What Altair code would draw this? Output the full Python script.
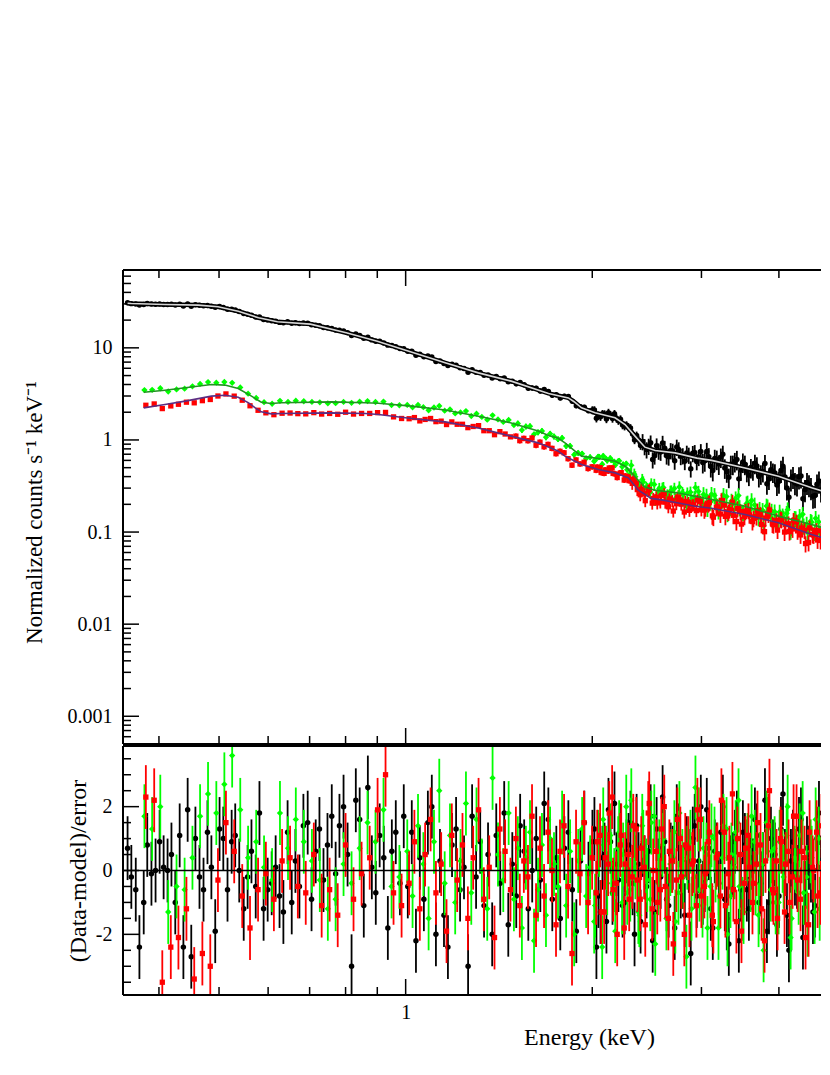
import altair as alt
import pandas as pd

# ---------------- data ----------------
# energies of the spectral bins (eV)
BK_E_EV = [356, 361, 367, 372, 378, 383, 389, 395, 401, 407, 413, 419, 425, 432, 438, 445, 451, 458, 465, 472,
           479, 486, 493, 501, 508, 516, 524, 531, 539, 548, 556, 564, 573, 581, 590, 599, 608, 617, 626, 635,
           645, 655, 664, 674, 684, 695, 705, 716, 726, 737, 748, 760, 771, 782, 794, 806, 818, 831, 843, 856,
           869, 882, 895, 908, 922, 936, 950, 964, 979, 993,
           1008, 1023, 1039, 1054, 1070, 1086, 1102, 1119, 1136, 1153, 1170, 1188, 1206, 1224, 1242, 1261, 1280, 1299, 1319, 1338,
           1358, 1379, 1400, 1421, 1442, 1464, 1486, 1508, 1530, 1553, 1577, 1600, 1624, 1649, 1673, 1699, 1724, 1750, 1776, 1803,
           1830, 1857, 1885, 1914, 1942, 1972, 2001, 2031, 2062, 2093, 2124, 2156, 2188, 2221, 2255, 2288, 2323, 2358, 2393, 2429,
           2466, 2503, 2540, 2578, 2617, 2656, 2696, 2737, 2778, 2820, 2862, 2905, 2948, 2993, 3037, 3083, 3129, 3176, 3224, 3272,
           3321, 3371, 3422, 3473, 3525, 3578, 3632, 3686, 3741, 3798, 3855, 3912, 3971, 4031, 4091, 4152, 4215, 4278, 4342, 4407,
           4473, 4540, 4608, 4677, 4747, 4818, 4891]
BK_FLUX = [30.8, 30.2, 30.0, 29.2, 29.6, 30.3, 29.9, 29.8, 30.0, 29.6,
           29.6, 29.7, 29.1, 29.8, 28.5, 30.0, 28.3, 29.4, 29.0, 28.6,
           28.9, 28.3, 27.5, 28.1, 27.4, 26.3, 26.2, 25.7, 24.8, 23.6,
           23.1, 22.6, 21.6, 21.6, 20.3, 20.1, 19.7, 19.4, 18.9, 18.7,
           19.2, 18.5, 18.7, 18.4, 18.6, 18.5, 17.8, 17.6, 17.4, 16.6,
           16.5, 16.2, 15.6, 15.5, 15.2, 14.6, 13.6, 14.1, 13.6, 12.7,
           13.0, 12.2, 11.8, 11.8, 11.3, 10.7, 10.6, 10.3, 9.82, 9.78,
           9.19, 9.21, 8.31, 8.50, 8.01, 8.14, 7.96, 7.11, 7.21, 6.75,
           6.42, 6.63, 6.49, 6.07, 5.97, 5.43, 5.80, 5.42, 5.39, 5.05,
           5.08, 4.70, 4.89, 4.62, 4.70, 4.28, 4.33, 4.07, 4.21, 3.98,
           3.64, 3.66, 3.65, 3.39, 3.53, 3.36, 3.05, 3.10, 2.86, 2.99,
           2.96, 2.63, 2.35, 2.30, 2.27, 2.08, 2.11, 1.72, 1.79, 1.91,
           1.98, 1.71, 1.72, 1.68, 1.41, 1.38, 1.16, 1.12, 0.868, 0.852,
           0.859, 0.612, 0.866, 0.741, 0.814, 0.657, 0.758, 0.839, 0.665, 0.587,
           0.687, 0.716, 0.585, 0.751, 0.594, 0.657, 0.467, 0.618, 0.651, 0.497,
           0.394, 0.545, 0.614, 0.472, 0.545, 0.415, 0.473, 0.523, 0.428, 0.555,
           0.377, 0.448, 0.325, 0.467, 0.397, 0.239, 0.401, 0.333, 0.406, 0.289,
           0.326, 0.245, 0.331, 0.286, 0.254, 0.332, 0.217]
BK_RES = [0.7, -0.2, -0.6, -2.4, -1.0, 0.8, -0.1, 0.0, 0.9, 0.1,
          0.0, 0.5, -1.0, 1.1, -2.4, 1.9, -2.7, 1.0, -0.2, -0.6,
          1.2, 0.1, -1.9, 1.3, 1.0, -0.6, 0.9, 1.1, 0.0, -1.2,
          -0.2, 0.6, -0.5, 1.8, -1.2, -0.6, -0.4, 0.1, -0.8, -1.3,
          1.2, -1.0, 0.3, -0.5, 1.4, 1.5, -0.9, 0.6, 1.3, -0.3,
          0.8, 1.7, -0.1, 1.4, 2.0, 0.5, -3.0, 2.2, 1.6, -1.1,
          2.6, 0.1, -0.7, 1.1, 0.4, -1.8, 0.6, 1.2, -0.4, 1.7,
          -0.5, 1.2, -2.2, 0.4, -0.9, 1.5, 2.0, -2.0, 0.3, -1.4,
          -2.4, 0.8, 1.3, -0.6, 0.1, -3.0, 1.7, -0.2, 0.9, -1.1,
          0.5, -2.0, 1.1, -0.4, 1.8, -1.7, 0.2, -0.8, 1.4, 0.6,
          -1.2, 0.0, 1.0, -0.3, 2.1, 1.6, -0.9, 0.4, -1.5, 0.7,
          1.2, -0.6, -1.9, 0.3, 1.5, -0.1, 0.9, -2.4, -1.3, 0.5,
          1.9, -0.7, 0.2, 1.1, -1.0, 0.8, -0.4, 1.4, -1.6, 0.1,
          0.6, -2.2, 1.3, -0.2, 0.9, -1.1, 0.4, 1.7, -0.5, -1.4,
          0.3, 1.0, -0.8, 2.0, -0.3, 0.7, -1.8, 0.5, 1.2, -0.9,
          -2.3, 0.2, 1.5, -0.6, 0.8, -1.2, 0.0, 1.1, -0.4, 2.2,
          -1.0, 0.6, -1.7, 1.3, 0.3, -2.5, 0.9, -0.2, 1.6, -0.7,
          0.4, -1.3, 1.0, 0.1, -0.5, 1.8, -1.1]
# finer bins of the same spectrum above 2 keV
BK_E_EV_X = [2016, 2046, 2077, 2108, 2140, 2172, 2204, 2238, 2271, 2305,
             2340, 2375, 2411, 2447, 2484, 2521, 2559, 2597, 2636, 2676,
             2716, 2757, 2799, 2841, 2883, 2926, 2970, 3015, 3060, 3106,
             3152, 3200, 3248, 3296, 3346, 3396, 3447, 3499, 3551, 3605,
             3659, 3713, 3769, 3826, 3883, 3941, 4001, 4061, 4121, 4183,
             4246, 4310, 4374, 4440, 4506, 4574, 4642, 4712, 4782, 4854]
BK_FLUX_X = [2.11, 1.85, 1.92, 1.69, 1.87, 1.92, 1.62, 1.45, 1.45, 1.35,
             1.00, 1.00, 0.964, 0.786, 0.932, 0.674, 0.761, 0.924, 0.675, 0.770,
             0.593, 0.786, 0.677, 0.722, 0.488, 0.733, 0.650, 0.569, 0.750, 0.514,
             0.631, 0.548, 0.698, 0.451, 0.544, 0.583, 0.378, 0.575, 0.456, 0.502,
             0.557, 0.401, 0.455, 0.334, 0.474, 0.438, 0.356, 0.518, 0.301, 0.377,
             0.344, 0.398, 0.230, 0.345, 0.304, 0.249, 0.358, 0.258, 0.299, 0.199]
BK_RES_X = [1.3, -0.8, 0.4, -1.6, 0.9, 2.1, -0.3, -1.1, 0.6, 1.5,
            -2.0, 0.2, 0.8, -0.5, 1.7, -1.3, 0.0, 2.3, -0.9, 0.5,
            -1.8, 1.1, -0.2, 0.7, -2.6, 1.4, 0.3, -0.7, 1.9, -1.2,
            0.6, -0.4, 2.0, -1.5, 0.1, 0.9, -2.2, 1.2, -0.6, 0.4,
            1.6, -1.0, 0.2, -1.9, 1.0, 0.5, -0.8, 2.4, -1.4, 0.3,
            -0.1, 1.3, -2.1, 0.7, 0.0, -1.1, 1.8, -0.5, 0.8, -1.7]

GR_E_EV = [379, 390, 402, 414, 427, 440, 453, 466, 480, 495, 510, 525, 541, 557, 574, 591, 609, 627, 646, 665,
           685, 706, 727, 749, 771, 794, 818, 843, 868, 894, 921, 949, 977,
           1006, 1026, 1047, 1068, 1089, 1111, 1133, 1156, 1179, 1202, 1226, 1251, 1276, 1301, 1327, 1354, 1381, 1409,
           1437, 1466, 1495,
           1517, 1540, 1563, 1587, 1611, 1635, 1659, 1684, 1710, 1735, 1761, 1788, 1815, 1842, 1870, 1898, 1926, 1955,
           1984, 2014, 2044, 2075, 2106, 2138, 2170, 2202, 2235, 2269, 2303, 2338, 2373, 2408, 2444, 2481, 2518, 2556,
           2595, 2634, 2673, 2713, 2754, 2795, 2837, 2880, 2923, 2967, 3012, 3057, 3103, 3149, 3196, 3244, 3293, 3342,
           3393, 3443, 3495, 3547, 3601, 3655, 3709, 3765, 3821, 3879, 3937, 3996, 4056, 4117, 4178, 4241, 4304, 4369,
           4434, 4501, 4568, 4637, 4706, 4777, 4848]
GR_FLUX = [3.48, 3.50, 3.64, 3.36, 3.54, 3.60, 3.82, 4.06, 4.25, 4.19, 4.26, 4.17, 3.72, 3.18, 2.86, 2.57, 2.47,
           2.66, 2.59, 2.67, 2.63, 2.59, 2.56, 2.50, 2.51, 2.59, 2.53, 2.60, 2.64, 2.58, 2.61, 2.39, 2.38,
           2.40, 2.26, 2.40, 2.27, 2.10, 2.25, 2.34, 2.08, 2.14, 1.94, 1.99, 2.06, 1.82, 1.93, 1.78, 1.66, 1.85,
           1.67, 1.57, 1.65, 1.45,
           1.51, 1.28, 1.40, 1.41, 1.15, 1.21, 1.25, 1.07, 1.17, 1.09,
           1.02, 1.05, 0.857, 0.861, 0.691, 0.722, 0.709, 0.630, 0.650, 0.587,
           0.657, 0.545, 0.622, 0.633, 0.580, 0.586, 0.511, 0.553, 0.430, 0.425,
           0.322, 0.372, 0.306, 0.271, 0.329, 0.272, 0.299, 0.238, 0.277, 0.298,
           0.249, 0.268, 0.194, 0.271, 0.242, 0.276, 0.205, 0.246, 0.213, 0.250,
           0.171, 0.224, 0.243, 0.185, 0.203, 0.249, 0.165, 0.203, 0.176, 0.197,
           0.144, 0.172, 0.192, 0.147, 0.166, 0.131, 0.150, 0.160, 0.103, 0.141,
           0.120, 0.156, 0.122, 0.131, 0.100, 0.129, 0.105, 0.111, 0.124]
GR_RES = [1.7, 1.3, 2.0, -1.3, -0.5, -0.6, 0.4, 1.7, 2.4, 1.8,
          2.7, 3.6, 1.9, 0.4, 0.9, 0.1, -0.3, 1.8, 0.7, 1.6,
          0.9, 0.3, -0.3, -1.2, -0.9, 0.2, -0.4, 0.7, 1.5, 0.9,
          1.9, -0.5, -0.2,
          0.6, -0.8, 1.4, 0.2, -1.5, 0.9, 2.5, -0.4, 1.1, -1.0,
          0.3, 2.1, -0.7, 1.6, 0.0, -1.2, 2.9, 0.5, -0.3, 1.8,
          -0.9, 0.7, -1.8, 0.4, 1.2, -2.2, -0.6, 0.8, -1.4, 1.0,
          0.2, -0.5, 1.5, -1.1, 0.6, -2.0, 0.3, 1.3, -0.8, 0.1,
          -1.6, 0.9, -2.4, 0.4, 1.1, -0.3, 0.7, -1.0, 2.0, -0.6,
          0.5, -1.3, 1.4, 0.0, -0.9, 1.7, -0.4, 0.8, -1.5, 0.2,
          1.2, -0.7, 0.3, -2.7, 0.9, -0.2, 1.6, -1.1, 0.5, -0.5,
          1.0, -1.8, 0.4, 1.3, -0.8, 0.1, 2.2, -1.2, 0.6, -0.3,
          0.9, -1.4, 0.2, 1.5, -0.6, 0.7, -1.0, 0.3, 1.1, -2.1,
          0.4, -0.7, 1.8, -0.2, 0.6, -1.3, 1.0, -0.5, 0.2, 1.4]
GR_E_EV_X = [2021, 2052, 2083, 2114, 2146, 2178, 2210, 2243, 2277, 2312,
             2347, 2382, 2417, 2453, 2490, 2527, 2565, 2605, 2644, 2683,
             2723, 2764, 2805, 2847, 2891, 2934, 2978, 3023, 3068, 3114,
             3161, 3208, 3256, 3305, 3354, 3406, 3456, 3508, 3560, 3614,
             3669, 3723, 3779, 3835, 3893, 3952, 4011, 4071, 4132, 4193,
             4257, 4320, 4385, 4450, 4518, 4585, 4654, 4723, 4795, 4866]
GR_FLUX_X = [0.603, 0.654, 0.669, 0.598, 0.606, 0.533, 0.593, 0.543, 0.475, 0.530,
             0.399, 0.311, 0.350, 0.296, 0.333, 0.226, 0.297, 0.304, 0.253, 0.279,
             0.230, 0.309, 0.256, 0.265, 0.224, 0.304, 0.228, 0.256, 0.182, 0.257,
             0.223, 0.197, 0.250, 0.160, 0.217, 0.230, 0.185, 0.163, 0.207, 0.220,
             0.169, 0.177, 0.118, 0.188, 0.169, 0.135, 0.165, 0.142, 0.175, 0.113,
             0.140, 0.148, 0.117, 0.0995, 0.128, 0.141, 0.098, 0.121, 0.104, 0.119]
GR_RES_X = [-1.1, 0.8, 1.6, -0.4, 0.2, -1.9, 1.2, 0.5, -0.7, 2.2,
            0.1, -1.4, 0.9, -0.3, 1.5, -2.3, 0.6, 1.0, -0.9, 0.3,
            -1.6, 1.8, -0.2, 0.4, -1.2, 2.6, -0.6, 0.7, -1.8, 1.1,
            0.0, -0.8, 1.4, -2.0, 0.5, 1.2, -0.5, -1.3, 0.8, 1.7,
            -0.4, 0.2, -2.5, 1.3, 0.6, -1.0, 0.9, -0.2, 2.0, -1.5,
            0.3, 1.1, -0.7, -1.7, 0.4, 1.6, -1.2, 0.7, -0.3, 1.0]

RD_E_EV = [381, 393, 405, 418, 430, 443, 456, 470, 484, 498, 513, 529, 545, 561, 578, 595, 613, 632, 651, 670,
           690, 711, 732, 754, 777, 800, 824, 849, 875, 901, 928, 956, 985,
           1013, 1033, 1054, 1075, 1097, 1119, 1141, 1164, 1187, 1211, 1235, 1260, 1285, 1311, 1337, 1364, 1391, 1419,
           1447, 1476, 1506,
           1528, 1551, 1575, 1599, 1623, 1647, 1672, 1697, 1722, 1748, 1774, 1801, 1828, 1855, 1883, 1911, 1940, 1969,
           1999, 2029, 2059, 2090, 2122, 2153, 2186, 2219, 2252, 2286, 2320, 2355, 2390, 2426, 2462, 2499, 2537, 2575,
           2613, 2653, 2692, 2733, 2774, 2815, 2858, 2900, 2944, 2988, 3033, 3078, 3124, 3171, 3219, 3267, 3316, 3366,
           3416, 3468, 3520, 3572, 3626, 3680, 3736, 3792, 3848, 3906, 3965, 4024, 4085, 4146, 4208, 4271, 4335, 4400,
           4466, 4533, 4601, 4670, 4740, 4811, 4883]
RD_FLUX = [2.38, 2.46, 2.19, 2.34, 2.44, 2.57, 2.53, 2.67, 2.75, 3.00, 3.16, 2.99, 2.70, 2.35, 2.10, 1.97, 1.88,
           1.95, 1.96, 1.93, 1.92, 1.98, 1.91, 1.94, 1.90, 2.00, 1.91, 1.94, 1.94, 1.98, 1.99, 1.78, 1.71,
           1.70, 1.75, 1.61, 1.67, 1.71, 1.58, 1.60, 1.47, 1.57, 1.48, 1.48, 1.36, 1.40, 1.43, 1.26, 1.26, 1.14,
           1.23, 1.16, 1.08, 1.10,
           0.983, 1.04, 0.981, 1.05, 0.876, 0.946, 0.843, 0.895, 0.810, 0.709,
           0.753, 0.725, 0.626, 0.532, 0.607, 0.549, 0.572, 0.490, 0.511, 0.469,
           0.500, 0.434, 0.460, 0.497, 0.425, 0.436, 0.367, 0.398, 0.338, 0.340,
           0.254, 0.261, 0.282, 0.206, 0.240, 0.212, 0.261, 0.188, 0.219, 0.203,
           0.223, 0.165, 0.209, 0.196, 0.171, 0.215, 0.174, 0.203, 0.150, 0.185,
           0.157, 0.196, 0.165, 0.211, 0.130, 0.167, 0.148, 0.172, 0.130, 0.147,
           0.155, 0.101, 0.157, 0.122, 0.133, 0.139, 0.100, 0.123, 0.108, 0.129,
           0.093, 0.105, 0.077, 0.094, 0.104, 0.081, 0.094, 0.059, 0.086]
RD_RES = [2.3, 2.2, -3.5, -2.4, -2.1, -1.2, -3.4, -2.6, -3.0, -0.3,
          1.5, 0.6, -0.8, -1.8, -0.6, -0.1, -0.9, 0.3, 0.4, -0.5,
          -0.7, 0.5, -1.1, -0.6, -1.4, 0.8, -0.9, -0.1, 0.4, 1.9,
          3.0, -0.7, -1.1,
          -0.4, 0.9, -1.2, 0.5, 1.6, -0.7, 0.2, -1.9, 1.1, -0.3,
          0.8, -1.5, 0.4, 1.9, -0.9, 0.1, -2.1, 1.3, 0.6, -0.6,
          1.0, -1.1, 0.3, -0.2, 1.7, -1.4, 0.7, -0.8, 1.2, 0.0,
          -1.7, 0.6, 1.4, -0.5, -2.6, 0.9, -0.1, 1.5, -1.0, 0.4,
          -0.7, 1.1, -1.3, 0.2, 2.3, -0.4, 0.8, -1.8, 0.5, -0.2,
          1.3, -0.9, 0.1, 1.8, -1.2, 0.6, -0.6, 2.0, -1.5, 0.3,
          -0.3, 1.0, -2.0, 0.7, 0.2, -1.1, 1.6, -0.5, 0.9, -1.4,
          0.4, -0.8, 1.2, -0.1, 2.4, -1.6, 0.5, -0.4, 1.1, -1.0,
          0.2, 0.8, -2.2, 1.4, -0.6, 0.3, 1.0, -1.3, 0.6, -0.2,
          1.7, -0.9, 0.4, -1.7, 0.1, 1.2, -0.7, 0.9, -2.4, 0.5]
RD_E_EV_X = [2037, 2067, 2098, 2130, 2161, 2194, 2227, 2260, 2294, 2329,
             2364, 2399, 2435, 2471, 2508, 2546, 2585, 2623, 2663, 2702,
             2743, 2784, 2825, 2869, 2911, 2955, 2999, 3044, 3089, 3136,
             3183, 3231, 3279, 3328, 3378, 3429, 3481, 3533, 3585, 3639,
             3694, 3750, 3806, 3862, 3920, 3980, 4039, 4100, 4161, 4224,
             4287, 4351, 4416, 4483, 4550, 4618, 4687, 4758, 4829, 4901]
RD_FLUX_X = [0.508, 0.443, 0.473, 0.496, 0.433, 0.391, 0.442, 0.407, 0.361, 0.376,
             0.289, 0.293, 0.219, 0.289, 0.231, 0.207, 0.250, 0.211, 0.229, 0.169,
             0.239, 0.201, 0.215, 0.172, 0.198, 0.222, 0.174, 0.183, 0.209, 0.145,
             0.188, 0.220, 0.148, 0.175, 0.152, 0.180, 0.122, 0.168, 0.154, 0.141,
             0.170, 0.121, 0.142, 0.174, 0.120, 0.105, 0.137, 0.122, 0.101, 0.134,
             0.103, 0.111, 0.075, 0.111, 0.093, 0.082, 0.103, 0.072, 0.088, 0.089]
RD_RES_X = [0.9, -1.3, 0.4, 1.8, -0.6, -2.0, 1.1, 0.2, -0.9, 1.4,
            -0.3, 0.7, -1.7, 2.1, 0.0, -1.0, 1.3, -0.5, 0.6, -2.3,
            1.6, -0.2, 0.8, -1.4, 0.3, 1.9, -0.8, -0.1, 1.2, -1.6,
            0.5, 2.2, -1.1, 0.4, -0.6, 1.0, -1.9, 0.7, 0.1, -0.4,
            1.5, -1.2, 0.3, 2.5, -0.7, -1.5, 0.9, 0.2, -1.0, 1.7,
            -0.3, 0.6, -2.1, 1.2, 0.0, -0.8, 1.4, -1.3, 0.5, 0.8]

# relative 1-sigma errors of the spectra, per energy band (keV band edges)
BK_ERR_EDGES = [1.0, 1.5, 2.0, 2.4, 3.0, 4.0]
BK_ERR_REL = [0.012, 0.035, 0.06, 0.10, 0.20, 0.24, 0.27]
MOS_ERR_EDGES = [1.0, 1.5, 2.3, 3.0]
GR_ERR_REL = [0.03, 0.04, 0.07, 0.15, 0.20]
RD_ERR_REL = [0.025, 0.04, 0.07, 0.15, 0.20]

# folded model curves (keV, counts/s/keV)
BK_MOD_E = [0.356, 0.361, 0.409, 0.463, 0.498, 0.537, 0.579, 0.621, 0.702, 0.802, 0.900, 1.000, 1.158, 1.31, 1.48,
            1.70, 1.83, 1.87, 1.922, 2.021, 2.177, 2.259, 2.344, 2.432, 2.526, 2.72, 2.95, 3.115, 3.527, 3.992,
            4.517, 4.81, 4.9]
BK_MOD_F = [30.5, 30.3, 29.6, 29.1, 27.9, 25.0, 21.2, 19.2, 18.1, 14.6, 11.8, 9.44, 6.88, 5.35, 4.35,
            3.20, 2.86, 2.60, 2.23, 1.97, 1.74, 1.47, 1.10, 0.835, 0.769, 0.724, 0.635, 0.600, 0.497, 0.404,
            0.302, 0.266, 0.258]
GR_MOD_E = [0.378, 0.409, 0.441, 0.486, 0.511, 0.537, 0.564, 0.585, 0.607, 0.630, 0.759, 0.861, 0.904, 1.022, 1.158,
            1.31, 1.48, 1.636, 1.70, 1.76, 1.807, 1.876, 1.922, 2.046, 2.177, 2.259, 2.315, 2.366, 2.43, 2.52,
            2.754, 3.115, 3.527, 3.992, 4.517, 4.81, 4.9]
GR_MOD_F = [3.30, 3.47, 3.68, 4.00, 3.94, 3.62, 2.99, 2.57, 2.49, 2.53, 2.59, 2.53, 2.50, 2.33, 2.11,
            1.81, 1.53, 1.25, 1.12, 1.05, 0.93, 0.755, 0.667, 0.629, 0.588, 0.519, 0.439, 0.372, 0.31, 0.285,
            0.266, 0.226, 0.191, 0.149, 0.121, 0.107, 0.104]
RD_MOD_E = [0.378, 0.409, 0.441, 0.486, 0.511, 0.537, 0.558, 0.572, 0.585, 0.607, 0.630, 0.759, 0.861, 0.904, 1.022,
            1.158, 1.31, 1.48, 1.636, 1.70, 1.76, 1.807, 1.876, 1.922, 2.046, 2.177, 2.287, 2.373, 2.49, 2.60,
            2.754, 2.929, 3.115, 3.527, 3.992, 4.517, 4.81, 4.9]
RD_MOD_F = [2.23, 2.43, 2.64, 2.99, 3.06, 2.91, 2.53, 2.23, 2.02, 1.92, 1.94, 1.97, 1.94, 1.89, 1.71,
            1.57, 1.35, 1.10, 0.93, 0.84, 0.76, 0.667, 0.588, 0.542, 0.478, 0.439, 0.388, 0.285, 0.232, 0.222,
            0.207, 0.191, 0.181, 0.155, 0.126, 0.094, 0.083, 0.080]

# axis ticks
Y_TOP_MAJOR = [0.001, 0.01, 0.1, 1, 10]
Y_TOP_MINOR = [0.0006, 0.0007, 0.0008, 0.0009,
               0.002, 0.003, 0.004, 0.005, 0.006, 0.007, 0.008, 0.009,
               0.02, 0.03, 0.04, 0.05, 0.06, 0.07, 0.08, 0.09,
               0.2, 0.3, 0.4, 0.5, 0.6, 0.7, 0.8, 0.9,
               2, 3, 4, 5, 6, 7, 8, 9,
               20, 30, 40, 50, 60]
Y_RES_MAJOR = [-2, 0, 2]
Y_RES_MINOR = [-3.5, -3, -2.5, -1.5, -1, -0.5, 0.5, 1, 1.5, 2.5, 3, 3.5]
X_MAJOR = [1]
X_MINOR = [0.4, 0.5, 0.6, 0.7, 0.8, 0.9, 2, 3, 4]

FONT = "Liberation Serif"
E_MIN, E_MAX = 0.35, 4.677
W = 698
H_TOP = 474
H_RES = 249
MAJ = 16
MIN = 8


def band(e, edges, rel):
    k = 0
    for b in edges:
        if e >= b:
            k += 1
    return rel[k]


def spectrum(e_ev, flux, res, edges, rel):
    e = [v / 1000.0 for v in e_ev]
    s = [band(v, edges, rel) for v in e]
    return pd.DataFrame({
        "E": e,
        "F": flux,
        "Flo": [f * (1 - q) for f, q in zip(flux, s)],
        "Fhi": [f * (1 + q) for f, q in zip(flux, s)],
        "R": res,
        "Rlo": [r - 1 for r in res],
        "Rhi": [r + 1 for r in res],
    })


bk = spectrum(BK_E_EV + BK_E_EV_X, BK_FLUX + BK_FLUX_X, BK_RES + BK_RES_X, BK_ERR_EDGES, BK_ERR_REL)
gr = spectrum(GR_E_EV + GR_E_EV_X, GR_FLUX + GR_FLUX_X, GR_RES + GR_RES_X, MOS_ERR_EDGES, GR_ERR_REL)
rd = spectrum(RD_E_EV + RD_E_EV_X, RD_FLUX + RD_FLUX_X, RD_RES + RD_RES_X, MOS_ERR_EDGES, RD_ERR_REL)
bk_mod = pd.DataFrame({"E": BK_MOD_E, "F": BK_MOD_F})
gr_mod = pd.DataFrame({"E": GR_MOD_E, "F": GR_MOD_F})
rd_mod = pd.DataFrame({"E": RD_MOD_E, "F": RD_MOD_F})

XS = alt.Scale(type="log", domain=[E_MIN, E_MAX], nice=False)
YT = alt.Scale(type="log", domain=[0.0005, 70], nice=False)
YR = alt.Scale(domain=[-3.9, 3.9], nice=False, zero=False)

BLACK = "#000000"
GREEN = "#00ff00"
RED = "#ff0000"
SERIES = [(bk, BLACK, "circle", 30), (gr, GREEN, "diamond", 40), (rd, RED, "square", 28)]

# the same axis object is given to every layer of a panel, so the layers merge cleanly
TOP_X_AXIS = alt.Axis(labels=False, title=None)
TOP_Y_AXIS = alt.Axis(values=Y_TOP_MAJOR, labelExpr="'' + datum.value",
                      title="Normalized counts s\u207b\u00b9 keV\u207b\u00b9", titleFontSize=23, titleY=242,
                      titlePadding=21, labelPadding=11, labelOverlap=False)
RES_Y_AXIS = alt.Axis(values=Y_RES_MAJOR, labelExpr="'' + datum.value", title="(Data-model)/error",
                      titleFontSize=24, titlePadding=5, labelPadding=11, labelOverlap=False)
RES_X_AXIS = alt.Axis(values=X_MAJOR, labelExpr="'' + datum.value", labelPadding=23, labelBaseline="alphabetic",
                      labelOverlap=False, title="Energy (keV)", titleFontSize=24, titleX=466, titleY=49,
                      titleAlign="center", titleBaseline="alphabetic")


def vtab(vals):
    return pd.DataFrame({"v": vals})


def panel(xaxis, ys, yaxis, ymaj, ymin, h):
    def X(field="E"):
        return alt.X(f"{field}:Q", scale=XS, axis=xaxis)

    def Y(field):
        return alt.Y(f"{field}:Q", scale=ys, axis=yaxis)

    layers = [
        alt.Chart(vtab(ymaj)).mark_rule(color=BLACK, strokeWidth=1.5).encode(
            y=Y("v"), x=alt.value(0), x2=alt.value(MAJ)),
        alt.Chart(vtab(ymin)).mark_rule(color=BLACK, strokeWidth=1.5).encode(
            y=Y("v"), x=alt.value(0), x2=alt.value(MIN)),
        alt.Chart(vtab(X_MAJOR)).mark_rule(color=BLACK, strokeWidth=1.5).encode(
            x=X("v"), y=alt.value(h), y2=alt.value(h - MAJ)),
        alt.Chart(vtab(X_MINOR)).mark_rule(color=BLACK, strokeWidth=1.5).encode(
            x=X("v"), y=alt.value(h), y2=alt.value(h - MIN)),
    ]
    return layers, X, Y


def frame(h):
    # left, top and bottom edges of the plotting box (its right edge lies outside the picture)
    return [
        alt.Chart(vtab([0])).mark_rule(color=BLACK, strokeWidth=2).encode(
            x=alt.value(0), y=alt.value(0), y2=alt.value(h)),
        alt.Chart(vtab([0])).mark_rule(color=BLACK, strokeWidth=2).encode(
            x=alt.value(0), x2=alt.value(W), y=alt.value(0)),
        alt.Chart(vtab([0])).mark_rule(color=BLACK, strokeWidth=2).encode(
            x=alt.value(0), x2=alt.value(W), y=alt.value(h)),
    ]


# ---------------- top panel ----------------
top_layers, TX, TY = panel(TOP_X_AXIS, YT, TOP_Y_AXIS, Y_TOP_MAJOR, Y_TOP_MINOR, H_TOP)
top_layers += [
    alt.Chart(vtab(X_MAJOR)).mark_rule(color=BLACK, strokeWidth=1.5).encode(
        x=TX("v"), y=alt.value(0), y2=alt.value(MAJ)),
    alt.Chart(vtab(X_MINOR)).mark_rule(color=BLACK, strokeWidth=1.5).encode(
        x=TX("v"), y=alt.value(0), y2=alt.value(MIN)),
    alt.Chart(bk_mod).mark_line(color=BLACK, strokeWidth=4.5, clip=True).encode(x=TX(), y=TY("F")),
]
for df, col, shp, sz in SERIES:
    top_layers.append(alt.Chart(df).mark_rule(color=col, strokeWidth=1.8, clip=True).encode(
        x=TX(), y=TY("Flo"), y2="Fhi:Q"))
    top_layers.append(alt.Chart(df).mark_point(shape=shp, filled=True, size=sz, color=col, opacity=1,
                                               strokeWidth=0, clip=True).encode(x=TX(), y=TY("F")))
for mdf, col in [(bk_mod, "#d6d6d6"), (gr_mod, "#1f961f"), (rd_mod, "#5c2d82")]:
    top_layers.append(alt.Chart(mdf).mark_line(color=col, strokeWidth=1.6, clip=True).encode(x=TX(), y=TY("F")))
top_layers += frame(H_TOP)

top = alt.layer(*top_layers).properties(width=W, height=H_TOP)

# ---------------- residual panel ----------------
res_layers, RX, RY = panel(RES_X_AXIS, YR, RES_Y_AXIS, Y_RES_MAJOR, Y_RES_MINOR, H_RES)
for df, col, shp, sz in SERIES:
    res_layers.append(alt.Chart(df).mark_rule(color=col, strokeWidth=1.8, clip=True).encode(
        x=RX(), y=RY("Rlo"), y2="Rhi:Q"))
    res_layers.append(alt.Chart(df).mark_point(shape=shp, filled=True, size=sz, color=col, opacity=1,
                                               strokeWidth=0, clip=True).encode(x=RX(), y=RY("R")))
res_layers.append(alt.Chart(vtab([0])).mark_rule(color=BLACK, strokeWidth=1.5).encode(y=RY("v")))
res_layers += frame(H_RES)

res = alt.layer(*res_layers).properties(width=W, height=H_RES)

chart = alt.vconcat(top, res, spacing=0).properties(
    padding={"top": 261, "left": 15, "right": 0, "bottom": 10}
).configure_view(strokeWidth=0).configure_axis(
    labelFont=FONT, titleFont=FONT, labelFontSize=20, titleFontSize=22, titleFontWeight="normal",
    labelColor=BLACK, titleColor=BLACK, grid=False, domain=False, ticks=False, tickSize=0
)

chart.save("out.html", embed_options={"renderer": "svg", "actions": False})
